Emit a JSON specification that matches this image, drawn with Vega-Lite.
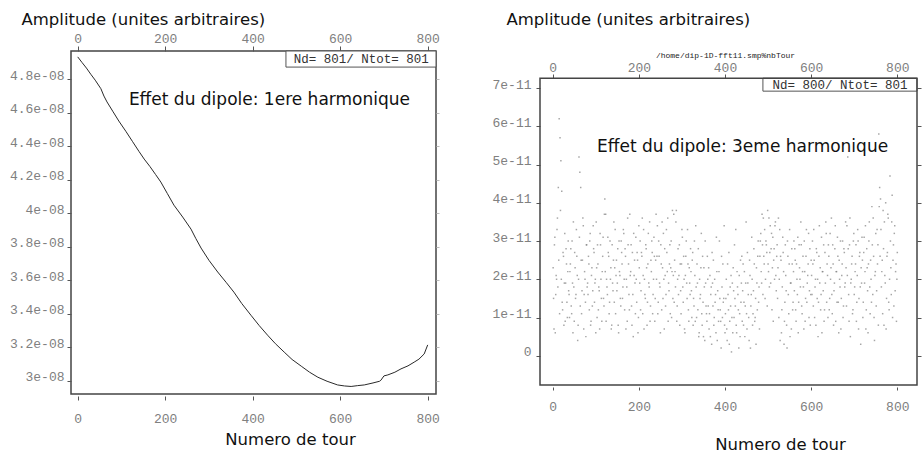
{
"$schema": "https://vega.github.io/schema/vega-lite/v6.json",
"padding": {"left": 8, "top": 10, "right": 0, "bottom": 0},
"background": "white",
"config": {
  "view": {"stroke": "#444", "strokeWidth": 1.5},
  "axis": {"domain": false, "grid": false, "labelFont": "Liberation Mono", "labelFontSize": 13, "labelColor": "#808080", "tickColor": "#555", "tickWidth": 1, "titleFont": "DejaVu Sans", "titleFontSize": 16.5, "titleFontWeight": "normal", "titleColor": "#111"}
},
"datasets": {
"h1": [
{"tour":0,"amplitude":4.934e-8},{"tour":10,"amplitude":4.90e-8},{"tour":20,"amplitude":4.867e-8},{"tour":30,"amplitude":4.83e-8},{"tour":40,"amplitude":4.795e-8},{"tour":53,"amplitude":4.744e-8},{"tour":60,"amplitude":4.70e-8},{"tour":67,"amplitude":4.665e-8},{"tour":80,"amplitude":4.61e-8},{"tour":94,"amplitude":4.551e-8},{"tour":110,"amplitude":4.49e-8},{"tour":125,"amplitude":4.43e-8},{"tour":140,"amplitude":4.37e-8},{"tour":152,"amplitude":4.324e-8},{"tour":165,"amplitude":4.28e-8},{"tour":178,"amplitude":4.232e-8},{"tour":190,"amplitude":4.187e-8},{"tour":205,"amplitude":4.118e-8},{"tour":220,"amplitude":4.049e-8},{"tour":240,"amplitude":3.978e-8},{"tour":259,"amplitude":3.906e-8},{"tour":270,"amplitude":3.85e-8},{"tour":282,"amplitude":3.793e-8},{"tour":300,"amplitude":3.72e-8},{"tour":320,"amplitude":3.65e-8},{"tour":340,"amplitude":3.586e-8},{"tour":357,"amplitude":3.53e-8},{"tour":375,"amplitude":3.462e-8},{"tour":396,"amplitude":3.392e-8},{"tour":415,"amplitude":3.33e-8},{"tour":434,"amplitude":3.273e-8},{"tour":452,"amplitude":3.222e-8},{"tour":472,"amplitude":3.172e-8},{"tour":490,"amplitude":3.128e-8},{"tour":511,"amplitude":3.088e-8},{"tour":530,"amplitude":3.052e-8},{"tour":549,"amplitude":3.022e-8},{"tour":570,"amplitude":2.998e-8},{"tour":594,"amplitude":2.976e-8},{"tour":610,"amplitude":2.97e-8},{"tour":625,"amplitude":2.967e-8},{"tour":640,"amplitude":2.972e-8},{"tour":655,"amplitude":2.976e-8},{"tour":675,"amplitude":2.988e-8},{"tour":690,"amplitude":2.998e-8},{"tour":693,"amplitude":3.004e-8},{"tour":700,"amplitude":3.03e-8},{"tour":709,"amplitude":3.036e-8},{"tour":725,"amplitude":3.052e-8},{"tour":739,"amplitude":3.072e-8},{"tour":755,"amplitude":3.09e-8},{"tour":769,"amplitude":3.112e-8},{"tour":780,"amplitude":3.13e-8},{"tour":792,"amplitude":3.161e-8},{"tour":800,"amplitude":3.215e-8}
],
"h3": [
{"tour":1,"amp":2.3e-11},{"tour":3,"amp":0.7e-11},{"tour":5,"amp":3.1e-11},{"tour":7,"amp":1.6e-11},{"tour":9,"amp":2.0e-11},{"tour":11,"amp":3.6e-11},{"tour":13,"amp":4.4e-11},{"tour":15,"amp":6.2e-11},{"tour":17,"amp":5.7e-11},{"tour":19,"amp":5.1e-11},{"tour":21,"amp":4.3e-11},{"tour":23,"amp":1.2e-11},{"tour":25,"amp":2.6e-11},{"tour":27,"amp":1.9e-11},{"tour":29,"amp":0.9e-11},{"tour":31,"amp":2.8e-11},{"tour":33,"amp":1.4e-11},{"tour":35,"amp":2.2e-11},{"tour":37,"amp":1.7e-11},{"tour":39,"amp":1.0e-11},
{"tour":41,"amp":2.4e-11},{"tour":43,"amp":1.3e-11},{"tour":45,"amp":3.0e-11},{"tour":47,"amp":0.6e-11},{"tour":49,"amp":1.8e-11},{"tour":51,"amp":2.7e-11},{"tour":53,"amp":1.5e-11},{"tour":55,"amp":3.3e-11},{"tour":57,"amp":2.1e-11},{"tour":59,"amp":0.8e-11},{"tour":61,"amp":5.2e-11},{"tour":63,"amp":4.8e-11},{"tour":65,"amp":4.4e-11},{"tour":67,"amp":1.1e-11},{"tour":69,"amp":2.5e-11},{"tour":71,"amp":3.4e-11},{"tour":73,"amp":1.6e-11},{"tour":75,"amp":2.0e-11},{"tour":77,"amp":0.5e-11},{"tour":79,"amp":2.9e-11},
{"tour":81,"amp":1.9e-11},{"tour":83,"amp":2.6e-11},{"tour":85,"amp":1.2e-11},{"tour":87,"amp":3.2e-11},{"tour":89,"amp":0.9e-11},{"tour":91,"amp":2.3e-11},{"tour":93,"amp":1.7e-11},{"tour":95,"amp":2.8e-11},{"tour":97,"amp":1.4e-11},{"tour":99,"amp":2.0e-11},{"tour":101,"amp":3.5e-11},{"tour":103,"amp":1.0e-11},{"tour":105,"amp":2.4e-11},{"tour":107,"amp":1.8e-11},{"tour":109,"amp":0.7e-11},{"tour":111,"amp":2.9e-11},{"tour":113,"amp":1.5e-11},{"tour":115,"amp":2.2e-11},{"tour":117,"amp":3.1e-11},{"tour":119,"amp":1.3e-11},
{"tour":121,"amp":4.1e-11},{"tour":123,"amp":3.7e-11},{"tour":125,"amp":2.0e-11},{"tour":127,"amp":1.6e-11},{"tour":129,"amp":2.7e-11},{"tour":131,"amp":1.1e-11},{"tour":133,"amp":3.0e-11},{"tour":135,"amp":2.3e-11},{"tour":137,"amp":0.8e-11},{"tour":139,"amp":1.9e-11},{"tour":141,"amp":2.5e-11},{"tour":143,"amp":1.4e-11},{"tour":145,"amp":3.3e-11},{"tour":147,"amp":2.1e-11},{"tour":149,"amp":1.7e-11},{"tour":151,"amp":2.8e-11},{"tour":153,"amp":0.6e-11},{"tour":155,"amp":2.2e-11},{"tour":157,"amp":1.5e-11},{"tour":159,"amp":3.0e-11},
{"tour":161,"amp":2.4e-11},{"tour":163,"amp":1.8e-11},{"tour":165,"amp":3.2e-11},{"tour":167,"amp":1.2e-11},{"tour":169,"amp":2.6e-11},{"tour":171,"amp":2.0e-11},{"tour":173,"amp":0.9e-11},{"tour":175,"amp":2.9e-11},{"tour":177,"amp":1.6e-11},{"tour":179,"amp":3.7e-11},{"tour":181,"amp":2.2e-11},{"tour":183,"amp":1.3e-11},{"tour":185,"amp":2.7e-11},{"tour":187,"amp":0.5e-11},{"tour":189,"amp":2.1e-11},{"tour":191,"amp":1.9e-11},{"tour":193,"amp":3.1e-11},{"tour":195,"amp":1.4e-11},{"tour":197,"amp":2.5e-11},{"tour":199,"amp":1.0e-11},
{"tour":201,"amp":2.3e-11},{"tour":203,"amp":3.0e-11},{"tour":205,"amp":1.7e-11},{"tour":207,"amp":2.6e-11},{"tour":209,"amp":1.1e-11},{"tour":211,"amp":3.3e-11},{"tour":213,"amp":2.0e-11},{"tour":215,"amp":1.5e-11},{"tour":217,"amp":2.8e-11},{"tour":219,"amp":0.8e-11},{"tour":221,"amp":2.4e-11},{"tour":223,"amp":1.9e-11},{"tour":225,"amp":3.5e-11},{"tour":227,"amp":1.3e-11},{"tour":229,"amp":2.2e-11},{"tour":231,"amp":2.7e-11},{"tour":233,"amp":1.6e-11},{"tour":235,"amp":3.1e-11},{"tour":237,"amp":0.9e-11},{"tour":239,"amp":2.5e-11},
{"tour":241,"amp":2.0e-11},{"tour":243,"amp":3.4e-11},{"tour":245,"amp":1.4e-11},{"tour":247,"amp":2.6e-11},{"tour":249,"amp":1.8e-11},{"tour":251,"amp":2.9e-11},{"tour":253,"amp":1.2e-11},{"tour":255,"amp":2.3e-11},{"tour":257,"amp":3.2e-11},{"tour":259,"amp":0.7e-11},{"tour":261,"amp":2.1e-11},{"tour":263,"amp":1.6e-11},{"tour":265,"amp":2.7e-11},{"tour":267,"amp":3.6e-11},{"tour":269,"amp":1.9e-11},{"tour":271,"amp":2.4e-11},{"tour":273,"amp":1.1e-11},{"tour":275,"amp":3.0e-11},{"tour":277,"amp":2.2e-11},{"tour":279,"amp":1.5e-11},
{"tour":281,"amp":3.7e-11},{"tour":283,"amp":2.5e-11},{"tour":285,"amp":1.8e-11},{"tour":287,"amp":3.8e-11},{"tour":289,"amp":1.3e-11},{"tour":291,"amp":2.8e-11},{"tour":293,"amp":2.1e-11},{"tour":295,"amp":0.8e-11},{"tour":297,"amp":1.7e-11},{"tour":299,"amp":2.4e-11},{"tour":301,"amp":3.1e-11},{"tour":303,"amp":1.4e-11},{"tour":305,"amp":2.0e-11},{"tour":307,"amp":0.6e-11},{"tour":309,"amp":2.6e-11},{"tour":311,"amp":1.9e-11},{"tour":313,"amp":3.3e-11},{"tour":315,"amp":1.2e-11},{"tour":317,"amp":2.3e-11},{"tour":319,"amp":1.6e-11},
{"tour":321,"amp":2.2e-11},{"tour":323,"amp":1.0e-11},{"tour":325,"amp":2.7e-11},{"tour":327,"amp":1.5e-11},{"tour":329,"amp":3.0e-11},{"tour":331,"amp":0.9e-11},{"tour":333,"amp":1.8e-11},{"tour":335,"amp":2.4e-11},{"tour":337,"amp":1.2e-11},{"tour":339,"amp":0.5e-11},{"tour":341,"amp":2.0e-11},{"tour":343,"amp":1.6e-11},{"tour":345,"amp":3.2e-11},{"tour":347,"amp":0.8e-11},{"tour":349,"amp":1.4e-11},{"tour":351,"amp":2.3e-11},{"tour":353,"amp":0.4e-11},{"tour":355,"amp":1.9e-11},{"tour":357,"amp":1.1e-11},{"tour":359,"amp":2.6e-11},
{"tour":361,"amp":1.3e-11},{"tour":363,"amp":0.7e-11},{"tour":365,"amp":2.1e-11},{"tour":367,"amp":1.6e-11},{"tour":369,"amp":0.3e-11},{"tour":371,"amp":1.9e-11},{"tour":373,"amp":2.5e-11},{"tour":375,"amp":1.0e-11},{"tour":377,"amp":1.4e-11},{"tour":379,"amp":0.6e-11},{"tour":381,"amp":2.2e-11},{"tour":383,"amp":1.7e-11},{"tour":385,"amp":0.9e-11},{"tour":387,"amp":3.0e-11},{"tour":389,"amp":1.2e-11},{"tour":391,"amp":0.2e-11},{"tour":393,"amp":1.8e-11},{"tour":395,"amp":2.4e-11},{"tour":397,"amp":1.5e-11},{"tour":399,"amp":0.8e-11},
{"tour":401,"amp":1.1e-11},{"tour":403,"amp":2.0e-11},{"tour":405,"amp":0.4e-11},{"tour":407,"amp":1.6e-11},{"tour":409,"amp":2.7e-11},{"tour":411,"amp":0.9e-11},{"tour":413,"amp":1.3e-11},{"tour":415,"amp":0.1e-11},{"tour":417,"amp":1.9e-11},{"tour":419,"amp":2.3e-11},{"tour":421,"amp":1.0e-11},{"tour":423,"amp":1.5e-11},{"tour":425,"amp":3.3e-11},{"tour":427,"amp":0.6e-11},{"tour":429,"amp":1.8e-11},{"tour":431,"amp":1.2e-11},{"tour":433,"amp":2.1e-11},{"tour":435,"amp":0.5e-11},{"tour":437,"amp":1.4e-11},{"tour":439,"amp":2.6e-11},
{"tour":441,"amp":1.7e-11},{"tour":443,"amp":0.8e-11},{"tour":445,"amp":2.2e-11},{"tour":447,"amp":1.3e-11},{"tour":449,"amp":3.5e-11},{"tour":451,"amp":0.7e-11},{"tour":453,"amp":1.9e-11},{"tour":455,"amp":1.0e-11},{"tour":457,"amp":2.5e-11},{"tour":459,"amp":0.2e-11},{"tour":461,"amp":1.6e-11},{"tour":463,"amp":2.0e-11},{"tour":465,"amp":1.1e-11},{"tour":467,"amp":2.8e-11},{"tour":469,"amp":0.9e-11},{"tour":471,"amp":1.5e-11},{"tour":473,"amp":2.3e-11},{"tour":475,"amp":1.2e-11},{"tour":477,"amp":3.0e-11},{"tour":479,"amp":1.8e-11},
{"tour":481,"amp":2.6e-11},{"tour":483,"amp":3.2e-11},{"tour":485,"amp":1.9e-11},{"tour":487,"amp":2.9e-11},{"tour":489,"amp":3.6e-11},{"tour":491,"amp":2.4e-11},{"tour":493,"amp":1.5e-11},{"tour":495,"amp":3.0e-11},{"tour":497,"amp":2.7e-11},{"tour":499,"amp":3.8e-11},{"tour":501,"amp":2.2e-11},{"tour":503,"amp":1.8e-11},{"tour":505,"amp":3.4e-11},{"tour":507,"amp":2.8e-11},{"tour":509,"amp":1.2e-11},{"tour":511,"amp":3.1e-11},{"tour":513,"amp":2.5e-11},{"tour":515,"amp":2.0e-11},{"tour":517,"amp":3.5e-11},{"tour":519,"amp":1.7e-11},
{"tour":521,"amp":2.9e-11},{"tour":523,"amp":2.3e-11},{"tour":525,"amp":1.0e-11},{"tour":527,"amp":3.3e-11},{"tour":529,"amp":2.6e-11},{"tour":531,"amp":0.6e-11},{"tour":533,"amp":1.8e-11},{"tour":535,"amp":2.7e-11},{"tour":537,"amp":0.3e-11},{"tour":539,"amp":1.4e-11},{"tour":541,"amp":2.1e-11},{"tour":543,"amp":0.8e-11},{"tour":545,"amp":3.0e-11},{"tour":547,"amp":1.6e-11},{"tour":549,"amp":2.4e-11},{"tour":551,"amp":0.5e-11},{"tour":553,"amp":1.9e-11},{"tour":555,"amp":2.8e-11},{"tour":557,"amp":1.2e-11},{"tour":559,"amp":2.2e-11},
{"tour":561,"amp":1.7e-11},{"tour":563,"amp":2.5e-11},{"tour":565,"amp":0.9e-11},{"tour":567,"amp":2.0e-11},{"tour":569,"amp":3.1e-11},{"tour":571,"amp":1.4e-11},{"tour":573,"amp":2.3e-11},{"tour":575,"amp":1.8e-11},{"tour":577,"amp":2.9e-11},{"tour":579,"amp":1.1e-11},{"tour":581,"amp":2.6e-11},{"tour":583,"amp":0.7e-11},{"tour":585,"amp":2.2e-11},{"tour":587,"amp":1.5e-11},{"tour":589,"amp":3.3e-11},{"tour":591,"amp":1.9e-11},{"tour":593,"amp":2.4e-11},{"tour":595,"amp":1.0e-11},{"tour":597,"amp":2.8e-11},{"tour":599,"amp":1.6e-11},
{"tour":601,"amp":2.1e-11},{"tour":603,"amp":3.0e-11},{"tour":605,"amp":1.3e-11},{"tour":607,"amp":2.5e-11},{"tour":609,"amp":1.8e-11},{"tour":611,"amp":0.8e-11},{"tour":613,"amp":2.7e-11},{"tour":615,"amp":2.0e-11},{"tour":617,"amp":1.4e-11},{"tour":619,"amp":3.4e-11},{"tour":621,"amp":2.3e-11},{"tour":623,"amp":1.6e-11},{"tour":625,"amp":0.6e-11},{"tour":627,"amp":2.2e-11},{"tour":629,"amp":2.9e-11},{"tour":631,"amp":1.2e-11},{"tour":633,"amp":1.9e-11},{"tour":635,"amp":3.2e-11},{"tour":637,"amp":2.4e-11},{"tour":639,"amp":1.0e-11},
{"tour":641,"amp":2.6e-11},{"tour":643,"amp":1.5e-11},{"tour":645,"amp":2.0e-11},{"tour":647,"amp":3.6e-11},{"tour":649,"amp":1.1e-11},{"tour":651,"amp":2.4e-11},{"tour":653,"amp":1.7e-11},{"tour":655,"amp":2.8e-11},{"tour":657,"amp":0.9e-11},{"tour":659,"amp":2.2e-11},{"tour":661,"amp":3.1e-11},{"tour":663,"amp":1.4e-11},{"tour":665,"amp":2.5e-11},{"tour":667,"amp":1.8e-11},{"tour":669,"amp":0.7e-11},{"tour":671,"amp":2.1e-11},{"tour":673,"amp":3.0e-11},{"tour":675,"amp":1.3e-11},{"tour":677,"amp":2.7e-11},{"tour":679,"amp":1.9e-11},
{"tour":681,"amp":2.3e-11},{"tour":683,"amp":3.4e-11},{"tour":685,"amp":5.2e-11},{"tour":687,"amp":1.6e-11},{"tour":689,"amp":2.9e-11},{"tour":691,"amp":0.5e-11},{"tour":693,"amp":2.0e-11},{"tour":695,"amp":2.6e-11},{"tour":697,"amp":1.2e-11},{"tour":699,"amp":3.2e-11},{"tour":701,"amp":1.8e-11},{"tour":703,"amp":2.4e-11},{"tour":705,"amp":0.9e-11},{"tour":707,"amp":2.1e-11},{"tour":709,"amp":3.0e-11},{"tour":711,"amp":1.5e-11},{"tour":713,"amp":2.7e-11},{"tour":715,"amp":0.3e-11},{"tour":717,"amp":1.9e-11},{"tour":719,"amp":2.5e-11},
{"tour":721,"amp":1.4e-11},{"tour":723,"amp":3.1e-11},{"tour":725,"amp":2.2e-11},{"tour":727,"amp":0.7e-11},{"tour":729,"amp":2.8e-11},{"tour":731,"amp":1.7e-11},{"tour":733,"amp":2.4e-11},{"tour":735,"amp":3.5e-11},{"tour":737,"amp":1.1e-11},{"tour":739,"amp":2.0e-11},{"tour":741,"amp":3.9e-11},{"tour":743,"amp":1.6e-11},{"tour":745,"amp":2.6e-11},{"tour":747,"amp":0.4e-11},{"tour":749,"amp":2.2e-11},{"tour":751,"amp":1.3e-11},{"tour":753,"amp":3.3e-11},{"tour":755,"amp":2.9e-11},{"tour":757,"amp":5.8e-11},{"tour":759,"amp":4.4e-11},
{"tour":761,"amp":4.1e-11},{"tour":763,"amp":1.8e-11},{"tour":765,"amp":2.5e-11},{"tour":767,"amp":3.8e-11},{"tour":769,"amp":0.8e-11},{"tour":771,"amp":2.1e-11},{"tour":773,"amp":4.0e-11},{"tour":775,"amp":1.5e-11},{"tour":777,"amp":2.7e-11},{"tour":779,"amp":3.6e-11},{"tour":781,"amp":1.2e-11},{"tour":783,"amp":4.7e-11},{"tour":785,"amp":2.3e-11},{"tour":787,"amp":3.5e-11},{"tour":789,"amp":1.0e-11},{"tour":791,"amp":2.9e-11},{"tour":793,"amp":3.2e-11},{"tour":795,"amp":1.7e-11},{"tour":797,"amp":2.4e-11},{"tour":799,"amp":2.0e-11},
{"tour":2,"amp":1.5e-11},{"tour":4,"amp":2.9e-11},{"tour":6,"amp":0.6e-11},{"tour":8,"amp":2.1e-11},{"tour":10,"amp":3.3e-11},{"tour":12,"amp":1.8e-11},{"tour":14,"amp":2.5e-11},{"tour":16,"amp":1.1e-11},{"tour":18,"amp":3.8e-11},{"tour":20,"amp":2.0e-11},{"tour":22,"amp":1.4e-11},{"tour":24,"amp":2.7e-11},{"tour":26,"amp":0.8e-11},{"tour":28,"amp":3.2e-11},{"tour":30,"amp":1.9e-11},{"tour":32,"amp":2.4e-11},{"tour":34,"amp":1.0e-11},{"tour":36,"amp":3.0e-11},{"tour":38,"amp":1.6e-11},{"tour":40,"amp":2.2e-11},
{"tour":42,"amp":2.8e-11},{"tour":44,"amp":1.1e-11},{"tour":46,"amp":1.9e-11},{"tour":48,"amp":3.5e-11},{"tour":50,"amp":0.9e-11},{"tour":52,"amp":2.3e-11},{"tour":54,"amp":1.6e-11},{"tour":56,"amp":2.6e-11},{"tour":58,"amp":0.4e-11},{"tour":60,"amp":2.0e-11},{"tour":62,"amp":3.1e-11},{"tour":64,"amp":1.3e-11},{"tour":66,"amp":2.5e-11},{"tour":68,"amp":1.7e-11},{"tour":70,"amp":3.6e-11},{"tour":72,"amp":0.7e-11},{"tour":74,"amp":2.2e-11},{"tour":76,"amp":1.4e-11},{"tour":78,"amp":2.9e-11},{"tour":80,"amp":1.8e-11},
{"tour":82,"amp":1.6e-11},{"tour":84,"amp":2.4e-11},{"tour":86,"amp":3.0e-11},{"tour":88,"amp":0.8e-11},{"tour":90,"amp":2.1e-11},{"tour":92,"amp":1.3e-11},{"tour":94,"amp":3.4e-11},{"tour":96,"amp":2.7e-11},{"tour":98,"amp":1.9e-11},{"tour":100,"amp":0.6e-11},{"tour":102,"amp":2.3e-11},{"tour":104,"amp":2.9e-11},{"tour":106,"amp":1.2e-11},{"tour":108,"amp":1.7e-11},{"tour":110,"amp":3.2e-11},{"tour":112,"amp":2.0e-11},{"tour":114,"amp":0.9e-11},{"tour":116,"amp":2.6e-11},{"tour":118,"amp":1.5e-11},{"tour":120,"amp":3.7e-11},
{"tour":122,"amp":2.2e-11},{"tour":124,"amp":0.9e-11},{"tour":126,"amp":1.8e-11},{"tour":128,"amp":3.1e-11},{"tour":130,"amp":2.6e-11},{"tour":132,"amp":1.4e-11},{"tour":134,"amp":2.0e-11},{"tour":136,"amp":0.7e-11},{"tour":138,"amp":2.9e-11},{"tour":140,"amp":1.7e-11},{"tour":142,"amp":3.5e-11},{"tour":144,"amp":2.3e-11},{"tour":146,"amp":1.1e-11},{"tour":148,"amp":2.5e-11},{"tour":150,"amp":1.9e-11},{"tour":152,"amp":0.8e-11},{"tour":154,"amp":3.0e-11},{"tour":156,"amp":2.1e-11},{"tour":158,"amp":1.3e-11},{"tour":160,"amp":2.7e-11},
{"tour":162,"amp":1.5e-11},{"tour":164,"amp":3.3e-11},{"tour":166,"amp":2.0e-11},{"tour":168,"amp":2.8e-11},{"tour":170,"amp":0.7e-11},{"tour":172,"amp":1.8e-11},{"tour":174,"amp":3.6e-11},{"tour":176,"amp":2.4e-11},{"tour":178,"amp":1.2e-11},{"tour":180,"amp":2.1e-11},{"tour":182,"amp":2.9e-11},{"tour":184,"amp":0.8e-11},{"tour":186,"amp":1.6e-11},{"tour":188,"amp":3.2e-11},{"tour":190,"amp":2.5e-11},{"tour":192,"amp":1.1e-11},{"tour":194,"amp":2.0e-11},{"tour":196,"amp":2.7e-11},{"tour":198,"amp":0.6e-11},{"tour":200,"amp":3.4e-11},
{"tour":202,"amp":1.9e-11},{"tour":204,"amp":1.2e-11},{"tour":206,"amp":2.7e-11},{"tour":208,"amp":3.6e-11},{"tour":210,"amp":2.1e-11},{"tour":212,"amp":0.7e-11},{"tour":214,"amp":1.6e-11},{"tour":216,"amp":2.9e-11},{"tour":218,"amp":2.3e-11},{"tour":220,"amp":1.4e-11},{"tour":222,"amp":3.2e-11},{"tour":224,"amp":1.8e-11},{"tour":226,"amp":0.9e-11},{"tour":228,"amp":2.5e-11},{"tour":230,"amp":3.0e-11},{"tour":232,"amp":1.1e-11},{"tour":234,"amp":2.0e-11},{"tour":236,"amp":2.6e-11},{"tour":238,"amp":1.5e-11},{"tour":240,"amp":3.7e-11},
{"tour":242,"amp":2.6e-11},{"tour":244,"amp":1.1e-11},{"tour":246,"amp":3.0e-11},{"tour":248,"amp":1.9e-11},{"tour":250,"amp":0.6e-11},{"tour":252,"amp":2.4e-11},{"tour":254,"amp":3.5e-11},{"tour":256,"amp":1.5e-11},{"tour":258,"amp":2.0e-11},{"tour":260,"amp":2.8e-11},{"tour":262,"amp":1.3e-11},{"tour":264,"amp":3.3e-11},{"tour":266,"amp":2.2e-11},{"tour":268,"amp":0.9e-11},{"tour":270,"amp":1.7e-11},{"tour":272,"amp":2.9e-11},{"tour":274,"amp":2.3e-11},{"tour":276,"amp":1.0e-11},{"tour":278,"amp":3.8e-11},{"tour":280,"amp":2.1e-11},
{"tour":282,"amp":1.4e-11},{"tour":284,"amp":2.2e-11},{"tour":286,"amp":3.5e-11},{"tour":288,"amp":0.9e-11},{"tour":290,"amp":2.0e-11},{"tour":292,"amp":1.6e-11},{"tour":294,"amp":2.9e-11},{"tour":296,"amp":2.4e-11},{"tour":298,"amp":1.1e-11},{"tour":300,"amp":3.3e-11},{"tour":302,"amp":1.8e-11},{"tour":304,"amp":2.6e-11},{"tour":306,"amp":0.7e-11},{"tour":308,"amp":2.1e-11},{"tour":310,"amp":3.0e-11},{"tour":312,"amp":1.5e-11},{"tour":314,"amp":2.4e-11},{"tour":316,"amp":0.9e-11},{"tour":318,"amp":1.9e-11},{"tour":320,"amp":2.8e-11},
{"tour":322,"amp":1.7e-11},{"tour":324,"amp":2.5e-11},{"tour":326,"amp":0.8e-11},{"tour":328,"amp":1.3e-11},{"tour":330,"amp":2.1e-11},{"tour":332,"amp":3.4e-11},{"tour":334,"amp":1.0e-11},{"tour":336,"amp":1.9e-11},{"tour":338,"amp":2.8e-11},{"tour":340,"amp":0.6e-11},{"tour":342,"amp":1.5e-11},{"tour":344,"amp":2.3e-11},{"tour":346,"amp":1.1e-11},{"tour":348,"amp":2.6e-11},{"tour":350,"amp":0.5e-11},{"tour":352,"amp":1.8e-11},{"tour":354,"amp":3.0e-11},{"tour":356,"amp":1.3e-11},{"tour":358,"amp":0.9e-11},{"tour":360,"amp":2.0e-11},
{"tour":362,"amp":2.3e-11},{"tour":364,"amp":1.1e-11},{"tour":366,"amp":0.5e-11},{"tour":368,"amp":1.8e-11},{"tour":370,"amp":2.7e-11},{"tour":372,"amp":1.3e-11},{"tour":374,"amp":0.8e-11},{"tour":376,"amp":2.0e-11},{"tour":378,"amp":1.6e-11},{"tour":380,"amp":3.1e-11},{"tour":382,"amp":0.4e-11},{"tour":384,"amp":1.2e-11},{"tour":386,"amp":2.2e-11},{"tour":388,"amp":1.5e-11},{"tour":390,"amp":0.9e-11},{"tour":392,"amp":2.6e-11},{"tour":394,"amp":1.0e-11},{"tour":396,"amp":1.4e-11},{"tour":398,"amp":3.4e-11},{"tour":400,"amp":0.6e-11},
{"tour":402,"amp":1.5e-11},{"tour":404,"amp":0.7e-11},{"tour":406,"amp":2.4e-11},{"tour":408,"amp":1.2e-11},{"tour":410,"amp":0.3e-11},{"tour":412,"amp":1.8e-11},{"tour":414,"amp":2.1e-11},{"tour":416,"amp":1.0e-11},{"tour":418,"amp":0.6e-11},{"tour":420,"amp":1.7e-11},{"tour":422,"amp":2.9e-11},{"tour":424,"amp":1.3e-11},{"tour":426,"amp":0.8e-11},{"tour":428,"amp":2.2e-11},{"tour":430,"amp":1.6e-11},{"tour":432,"amp":0.2e-11},{"tour":434,"amp":1.1e-11},{"tour":436,"amp":2.5e-11},{"tour":438,"amp":1.9e-11},{"tour":440,"amp":0.9e-11},
{"tour":442,"amp":2.4e-11},{"tour":444,"amp":1.4e-11},{"tour":446,"amp":0.5e-11},{"tour":448,"amp":1.9e-11},{"tour":450,"amp":1.1e-11},{"tour":452,"amp":2.7e-11},{"tour":454,"amp":1.6e-11},{"tour":456,"amp":0.4e-11},{"tour":458,"amp":2.1e-11},{"tour":460,"amp":1.3e-11},{"tour":462,"amp":3.1e-11},{"tour":464,"amp":0.8e-11},{"tour":466,"amp":1.7e-11},{"tour":468,"amp":2.4e-11},{"tour":470,"amp":1.0e-11},{"tour":472,"amp":0.3e-11},{"tour":474,"amp":1.9e-11},{"tour":476,"amp":2.6e-11},{"tour":478,"amp":1.4e-11},{"tour":480,"amp":0.7e-11},
{"tour":482,"amp":3.0e-11},{"tour":484,"amp":2.2e-11},{"tour":486,"amp":3.7e-11},{"tour":488,"amp":1.6e-11},{"tour":490,"amp":2.6e-11},{"tour":492,"amp":3.3e-11},{"tour":494,"amp":2.0e-11},{"tour":496,"amp":2.9e-11},{"tour":498,"amp":1.3e-11},{"tour":500,"amp":2.4e-11},{"tour":502,"amp":3.6e-11},{"tour":504,"amp":2.7e-11},{"tour":506,"amp":1.9e-11},{"tour":508,"amp":3.2e-11},{"tour":510,"amp":2.3e-11},{"tour":512,"amp":0.9e-11},{"tour":514,"amp":2.8e-11},{"tour":516,"amp":3.4e-11},{"tour":518,"amp":2.1e-11},{"tour":520,"amp":2.6e-11},
{"tour":522,"amp":1.5e-11},{"tour":524,"amp":3.6e-11},{"tour":526,"amp":2.0e-11},{"tour":528,"amp":0.4e-11},{"tour":530,"amp":2.5e-11},{"tour":532,"amp":1.2e-11},{"tour":534,"amp":3.1e-11},{"tour":536,"amp":2.2e-11},{"tour":538,"amp":0.9e-11},{"tour":540,"amp":2.9e-11},{"tour":542,"amp":1.7e-11},{"tour":544,"amp":0.2e-11},{"tour":546,"amp":2.6e-11},{"tour":548,"amp":1.1e-11},{"tour":550,"amp":3.3e-11},{"tour":552,"amp":1.9e-11},{"tour":554,"amp":0.7e-11},{"tour":556,"amp":2.4e-11},{"tour":558,"amp":1.4e-11},{"tour":560,"amp":3.0e-11},
{"tour":562,"amp":2.8e-11},{"tour":564,"amp":1.2e-11},{"tour":566,"amp":2.4e-11},{"tour":568,"amp":1.6e-11},{"tour":570,"amp":0.6e-11},{"tour":572,"amp":2.9e-11},{"tour":574,"amp":2.0e-11},{"tour":576,"amp":3.5e-11},{"tour":578,"amp":1.3e-11},{"tour":580,"amp":2.2e-11},{"tour":582,"amp":1.8e-11},{"tour":584,"amp":3.0e-11},{"tour":586,"amp":0.9e-11},{"tour":588,"amp":2.6e-11},{"tour":590,"amp":1.4e-11},{"tour":592,"amp":2.1e-11},{"tour":594,"amp":3.2e-11},{"tour":596,"amp":1.7e-11},{"tour":598,"amp":0.8e-11},{"tour":600,"amp":2.5e-11},
{"tour":602,"amp":1.6e-11},{"tour":604,"amp":2.4e-11},{"tour":606,"amp":3.3e-11},{"tour":608,"amp":1.0e-11},{"tour":610,"amp":2.0e-11},{"tour":612,"amp":2.8e-11},{"tour":614,"amp":1.5e-11},{"tour":616,"amp":0.5e-11},{"tour":618,"amp":2.6e-11},{"tour":620,"amp":1.9e-11},{"tour":622,"amp":1.2e-11},{"tour":624,"amp":3.1e-11},{"tour":626,"amp":2.2e-11},{"tour":628,"amp":1.7e-11},{"tour":630,"amp":0.9e-11},{"tour":632,"amp":2.7e-11},{"tour":634,"amp":3.5e-11},{"tour":636,"amp":1.4e-11},{"tour":638,"amp":2.1e-11},{"tour":640,"amp":2.9e-11},
{"tour":642,"amp":1.2e-11},{"tour":644,"amp":3.2e-11},{"tour":646,"amp":2.3e-11},{"tour":648,"amp":1.6e-11},{"tour":650,"amp":2.9e-11},{"tour":652,"amp":0.8e-11},{"tour":654,"amp":1.9e-11},{"tour":656,"amp":3.4e-11},{"tour":658,"amp":2.2e-11},{"tour":660,"amp":1.4e-11},{"tour":662,"amp":2.6e-11},{"tour":664,"amp":0.6e-11},{"tour":666,"amp":2.0e-11},{"tour":668,"amp":3.0e-11},{"tour":670,"amp":1.5e-11},{"tour":672,"amp":2.4e-11},{"tour":674,"amp":1.0e-11},{"tour":676,"amp":2.8e-11},{"tour":678,"amp":1.8e-11},{"tour":680,"amp":3.5e-11},
{"tour":682,"amp":1.3e-11},{"tour":684,"amp":2.1e-11},{"tour":686,"amp":2.8e-11},{"tour":688,"amp":0.9e-11},{"tour":690,"amp":3.6e-11},{"tour":692,"amp":1.9e-11},{"tour":694,"amp":2.4e-11},{"tour":696,"amp":1.1e-11},{"tour":698,"amp":3.0e-11},{"tour":700,"amp":1.6e-11},{"tour":702,"amp":2.2e-11},{"tour":704,"amp":2.9e-11},{"tour":706,"amp":1.4e-11},{"tour":708,"amp":3.3e-11},{"tour":710,"amp":0.7e-11},{"tour":712,"amp":2.6e-11},{"tour":714,"amp":1.8e-11},{"tour":716,"amp":2.3e-11},{"tour":718,"amp":3.1e-11},{"tour":720,"amp":1.0e-11},
{"tour":722,"amp":2.7e-11},{"tour":724,"amp":1.9e-11},{"tour":726,"amp":3.4e-11},{"tour":728,"amp":1.2e-11},{"tour":730,"amp":2.3e-11},{"tour":732,"amp":0.6e-11},{"tour":734,"amp":3.0e-11},{"tour":736,"amp":1.8e-11},{"tour":738,"amp":2.5e-11},{"tour":740,"amp":1.4e-11},{"tour":742,"amp":2.9e-11},{"tour":744,"amp":3.6e-11},{"tour":746,"amp":1.0e-11},{"tour":748,"amp":2.1e-11},{"tour":750,"amp":3.2e-11},{"tour":752,"amp":1.7e-11},{"tour":754,"amp":2.4e-11},{"tour":756,"amp":0.8e-11},{"tour":758,"amp":3.9e-11},{"tour":760,"amp":2.6e-11},
{"tour":762,"amp":3.3e-11},{"tour":764,"amp":2.2e-11},{"tour":766,"amp":1.1e-11},{"tour":768,"amp":2.8e-11},{"tour":770,"amp":3.5e-11},{"tour":772,"amp":1.9e-11},{"tour":774,"amp":0.7e-11},{"tour":776,"amp":2.6e-11},{"tour":778,"amp":3.7e-11},{"tour":780,"amp":1.4e-11},{"tour":782,"amp":2.0e-11},{"tour":784,"amp":3.0e-11},{"tour":786,"amp":1.6e-11},{"tour":788,"amp":4.2e-11},{"tour":790,"amp":2.5e-11},{"tour":792,"amp":1.3e-11},{"tour":794,"amp":3.4e-11},{"tour":796,"amp":2.2e-11},{"tour":798,"amp":0.9e-11},{"tour":800,"amp":2.7e-11}
]
},
"spacing": 50,
"hconcat": [
{
 "width": 365, "height": 343,
 "layer": [
  {"data": {"name": "h1"},
   "mark": {"type": "line", "color": "#2a2a2a", "strokeWidth": 1},
   "encoding": {
    "x": {"field": "tour", "type": "quantitative", "scale": {"domain": [-15.3, 819], "nice": false, "zero": false},
      "axis": {"orient": "bottom", "values": [0,200,400,600,800], "offset": 2, "tickSize": 4, "labelPadding": 12, "title": "Numero de tour", "titleX": 219, "titleY": 48, "titleBaseline": "alphabetic", "titleAlign": "center"}},
    "y": {"field": "amplitude", "type": "quantitative", "scale": {"domain": [2.922e-8, 4.969e-8], "nice": false, "zero": false},
      "axis": {"orient": "left", "values": [3e-8,3.2e-8,3.4e-8,3.6e-8,3.8e-8,4e-8,4.2e-8,4.4e-8,4.6e-8,4.8e-8], "labelExpr": "replace(format(datum.value, '.2~e'), 'e-8', 'e-08')", "tickSize": 4, "labelPadding": 3, "labelBaseline": "alphabetic", "title": "Amplitude (unites arbitraires)", "titleAngle": 0, "titleX": -50, "titleY": -27, "titleAlign": "left", "titleBaseline": "alphabetic"}}
   }},
  {"data": {"name": "h1"},
   "mark": {"type": "point", "opacity": 0},
   "encoding": {
    "x": {"field": "tour", "type": "quantitative", "scale": {"domain": [-15.3, 819], "nice": false, "zero": false},
      "axis": {"orient": "top", "values": [0,200,400,600,800], "tickSize": 5, "labelPadding": 1, "title": null}},
    "y": {"field": "amplitude", "type": "quantitative", "scale": {"domain": [2.922e-8, 4.969e-8], "nice": false, "zero": false},
      "axis": {"orient": "right", "values": [3e-8,3.2e-8,3.4e-8,3.6e-8,3.8e-8,4e-8,4.2e-8,4.4e-8,4.6e-8,4.8e-8], "labels": false, "tickSize": 3, "tickColor": "#bbb", "title": null}}
   }},
  {"data": {"values": [{}]},
   "mark": {"type": "rect", "fill": "white", "stroke": "#555", "strokeWidth": 1},
   "encoding": {
    "x": {"datum": 476, "type": "quantitative", "scale": {"domain": [-15.3, 819], "nice": false, "zero": false}, "axis": null},
    "x2": {"datum": 819},
    "y": {"datum": 4.969e-8, "type": "quantitative", "scale": {"domain": [2.922e-8, 4.969e-8], "nice": false, "zero": false}, "axis": null},
    "y2": {"datum": 4.873e-8}
   }},
  {"data": {"values": [{}]},
   "mark": {"type": "text", "font": "Liberation Mono", "fontSize": 12.5, "color": "#333", "align": "center", "baseline": "middle", "text": "Nd= 801/ Ntot= 801"},
   "encoding": {
    "x": {"datum": 648, "type": "quantitative", "scale": {"domain": [-15.3, 819], "nice": false, "zero": false}, "axis": null},
    "y": {"datum": 4.92e-8, "type": "quantitative", "scale": {"domain": [2.922e-8, 4.969e-8], "nice": false, "zero": false}, "axis": null}
   }},
  {"data": {"values": [{}]},
   "mark": {"type": "text", "font": "DejaVu Sans", "fontSize": 17, "color": "#111", "align": "left", "baseline": "middle", "text": "Effet du dipole: 1ere harmonique"},
   "encoding": {
    "x": {"datum": 117, "type": "quantitative", "scale": {"domain": [-15.3, 819], "nice": false, "zero": false}, "axis": null},
    "y": {"datum": 4.676e-8, "type": "quantitative", "scale": {"domain": [2.922e-8, 4.969e-8], "nice": false, "zero": false}, "axis": null}
   }}
 ]
},
{
 "width": 377, "height": 334,
 "view": {"stroke": null},
 "layer": [
  {"data": {"name": "h3"},
   "mark": {"type": "square", "size": 2.2, "color": "#808080", "opacity": 0.7, "filled": true},
   "encoding": {
    "x": {"field": "tour", "type": "quantitative", "scale": {"domain": [-29.5, 845.7], "nice": false, "zero": false},
      "axis": {"orient": "bottom", "values": [0,200,400,600,800], "offset": 2, "tickSize": 3, "labelPadding": 10, "title": "Numero de tour", "titleX": 240, "titleY": 62, "titleBaseline": "alphabetic", "titleAlign": "center"}},
    "y": {"field": "amp", "type": "quantitative", "scale": {"domain": [-0.765e-11, 7.97e-11], "nice": false, "zero": false},
      "axis": {"orient": "left", "values": [0,1e-11,2e-11,3e-11,4e-11,5e-11,6e-11,7e-11], "labelExpr": "datum.value === 0 ? '0' : format(datum.value, '.1~e')", "tickSize": 4, "labelPadding": 5, "labelBaseline": "alphabetic", "title": "Amplitude (unites arbitraires)", "titleAngle": 0, "titleX": -34, "titleY": -27, "titleAlign": "left", "titleBaseline": "alphabetic"}}
   }},
  {"data": {"name": "h3"},
   "mark": {"type": "point", "opacity": 0},
   "encoding": {
    "x": {"field": "tour", "type": "quantitative", "scale": {"domain": [-29.5, 845.7], "nice": false, "zero": false},
      "axis": {"orient": "top", "offset": -27, "values": [0,200,400,600,800], "tickSize": 4, "labelPadding": 0, "title": "/home/dip-1D-fft11.smp%nbTour", "titleFont": "Liberation Mono", "titleFontSize": 8, "titleColor": "#222", "titleX": 185, "titleY": -21, "titleBaseline": "alphabetic", "titleAlign": "center"}},
    "y": {"field": "amp", "type": "quantitative", "scale": {"domain": [-0.765e-11, 7.97e-11], "nice": false, "zero": false},
      "axis": {"orient": "right", "values": [0,1e-11,2e-11,3e-11,4e-11,5e-11,6e-11,7e-11], "labels": false, "tickSize": 4, "tickColor": "#555", "title": null}}
   }},
  {"data": {"values": [{}]},
   "mark": {"type": "rect", "fill": "white", "stroke": "#555", "strokeWidth": 1},
   "encoding": {
    "x": {"datum": 488, "type": "quantitative", "scale": {"domain": [-29.5, 845.7], "nice": false, "zero": false}, "axis": null},
    "x2": {"datum": 845.7},
    "y": {"datum": 7.26e-11, "type": "quantitative", "scale": {"domain": [-0.765e-11, 7.97e-11], "nice": false, "zero": false}, "axis": null},
    "y2": {"datum": 6.92e-11}
   }},
  {"data": {"values": [{}]},
   "mark": {"type": "text", "font": "Liberation Mono", "fontSize": 12.5, "color": "#333", "align": "center", "baseline": "middle", "text": "Nd= 800/ Ntot= 801"},
   "encoding": {
    "x": {"datum": 667, "type": "quantitative", "scale": {"domain": [-29.5, 845.7], "nice": false, "zero": false}, "axis": null},
    "y": {"datum": 7.09e-11, "type": "quantitative", "scale": {"domain": [-0.765e-11, 7.97e-11], "nice": false, "zero": false}, "axis": null}
   }},
  {"data": {"values": [{}]},
   "mark": {"type": "text", "font": "DejaVu Sans", "fontSize": 17, "color": "#111", "align": "left", "baseline": "middle", "text": "Effet du dipole: 3eme harmonique"},
   "encoding": {
    "x": {"datum": 103, "type": "quantitative", "scale": {"domain": [-29.5, 845.7], "nice": false, "zero": false}, "axis": null},
    "y": {"datum": 5.46e-11, "type": "quantitative", "scale": {"domain": [-0.765e-11, 7.97e-11], "nice": false, "zero": false}, "axis": null}
   }},
  {"data": {"values": [{}]},
   "mark": {"type": "rect", "filled": false, "color": "#444", "strokeWidth": 1.5},
   "encoding": {
    "x": {"datum": -29.5, "type": "quantitative", "scale": {"domain": [-29.5, 845.7], "nice": false, "zero": false}, "axis": null},
    "x2": {"datum": 845.7},
    "y": {"datum": -0.765e-11, "type": "quantitative", "scale": {"domain": [-0.765e-11, 7.97e-11], "nice": false, "zero": false}, "axis": null},
    "y2": {"datum": 7.26e-11}
   }}
 ]
}
]
}
